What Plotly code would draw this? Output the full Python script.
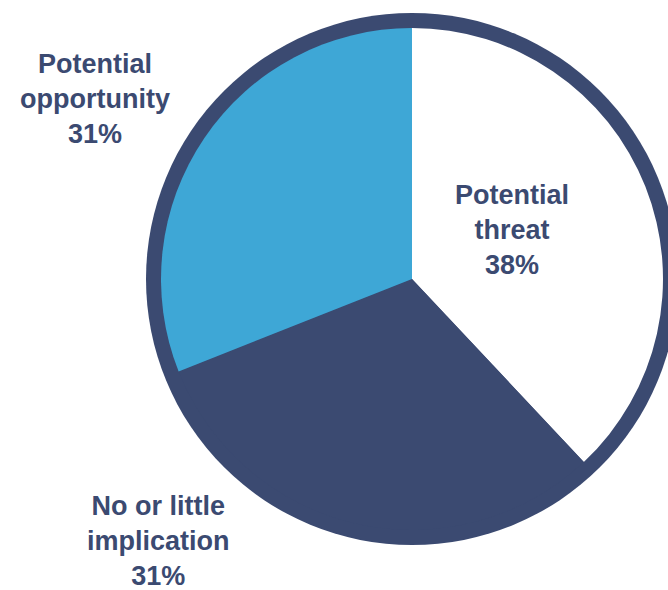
import plotly.graph_objects as go

# Survey split, clockwise from 12 o'clock
categories = ["Potential<br>threat", "No or little<br>implication", "Potential<br>opportunity"]
shares = [38, 31, 31]
slice_colors = ["#FFFFFF", "#3B4A71", "#3EA7D6"]

NAVY = "#3B4A71"
FIG_W, FIG_H = 690, 590

# Pie centre and radii in pixels
CX, CY = 412, 279
R_OUTER, R_INNER = 266, 251


def domain(r):
    cy_up = FIG_H - CY
    return dict(x=[(CX - r) / FIG_W, (CX + r) / FIG_W],
                y=[(cy_up - r) / FIG_H, (cy_up + r) / FIG_H])


fig = go.Figure()

# Navy disc that forms the thick outer rim
fig.add_trace(go.Pie(
    values=[1], labels=["rim"], marker=dict(colors=[NAVY], line=dict(width=0)),
    textinfo="none", hoverinfo="skip", showlegend=False, sort=False,
    domain=domain(R_OUTER),
))

# Data slices
fig.add_trace(go.Pie(
    values=shares, labels=categories,
    marker=dict(colors=slice_colors, line=dict(width=0)),
    textinfo="none", hoverinfo="label+percent", showlegend=False,
    sort=False, direction="clockwise", rotation=0,
    domain=domain(R_INNER),
))

# Slice labels placed around the pie
label_pos = [(512, 230), (158, 541), (95, 99)]
for name, val, (px, py) in zip(categories, shares, label_pos):
    fig.add_annotation(
        x=px / FIG_W, y=1 - py / FIG_H, xref="paper", yref="paper",
        text=f"{name}<br>{val}%", showarrow=False,
        xanchor="center", yanchor="middle", align="center",
        font=dict(family="Liberation Sans, Arial, sans-serif", size=27,
                  color=NAVY, weight=700),
    )

fig.update_layout(
    width=FIG_W, height=FIG_H,
    margin=dict(l=0, r=0, t=0, b=0),
    paper_bgcolor="white", plot_bgcolor="white",
)

fig.write_html(
    "out.html",
    post_script="document.documentElement.style.overflow='hidden';"
                "document.body.style.overflow='hidden';"
                "document.body.style.margin='0';",
)
